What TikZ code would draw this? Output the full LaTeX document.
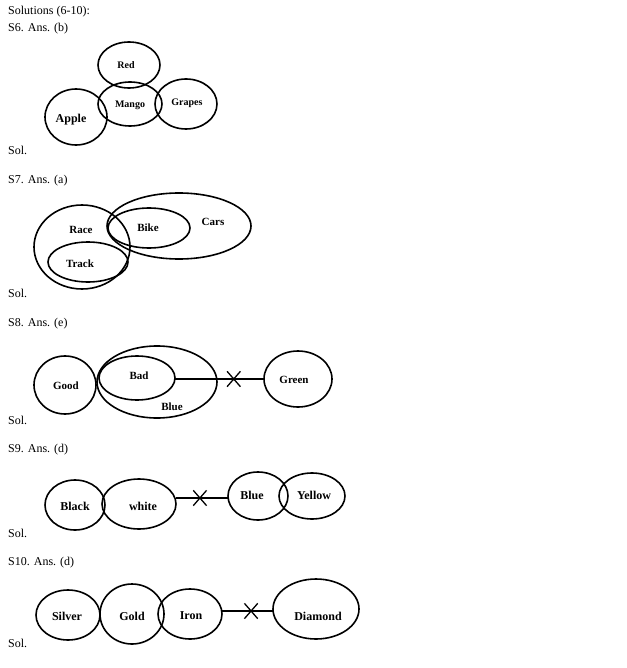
\documentclass[tikz,border=0pt]{standalone}
\usepackage{fontspec}
\setmainfont{Liberation Serif}
\newfontfamily\lblfont{Liberation Serif}
\usetikzlibrary{shapes.misc}
\begin{document}
\begin{tikzpicture}[x=1pt,y=-1pt,
  txt/.style={anchor=west,inner sep=0,font=\fontsize{12}{14}\selectfont},
  lbl/.style={inner sep=0,font=\lblfont\bfseries\fontsize{11}{13}\selectfont},
  ring/.style={draw,line width=1.6pt},
  link/.style={line width=1.6pt},
  xmark/.style={cross out,draw,line width=1.3pt,minimum width=12pt,minimum height=14pt,inner sep=0}]
\useasboundingbox (0,0) rectangle (626,668);
\node[txt] (t0) at (8,12) {Solutions (6-10):};
\node[txt] (t6) at (8,29) {S6. Ans. (b)};
\node[txt] (s6) at (8,150) {Sol.};
\node[txt] (t7) at (8,181) {S7. Ans. (a)};
\node[txt] (s7) at (8,293) {Sol.};
\node[txt] (t8) at (8,324) {S8. Ans. (e)};
\node[txt] (s8) at (8,420) {Sol.};
\node[txt] (t9) at (8,450) {S9. Ans. (d)};
\node[txt] (s9) at (8,533) {Sol.};
\node[txt] (t10) at (8,563) {S10. Ans. (d)};
\node[txt] (s10) at (8,643) {Sol.};
% S6
\draw[ring] (129,65) ellipse (31 and 23);
\draw[ring] (76,117) ellipse (31 and 28);
\draw[ring] (130,104) ellipse (32 and 22);
\draw[ring] (186,104) ellipse (31 and 25);
\node[lbl,font=\lblfont\bfseries\fontsize{10}{12}\selectfont] (red) at (126,65) {Red};
\node[lbl,font=\lblfont\bfseries\fontsize{12}{14}\selectfont] (apple) at (71,120) {Apple};
\node[lbl,font=\lblfont\bfseries\fontsize{10}{12}\selectfont] (mango) at (130,105) {Mango};
\node[lbl,font=\lblfont\bfseries\fontsize{10}{12}\selectfont] (grapes) at (187,103) {Grapes};
% S7
\draw[ring] (82,247) ellipse (48 and 42);
\draw[ring] (179,226) ellipse (72 and 33);
\draw[ring] (149,228) ellipse (41 and 20);
\draw[ring] (88,262) ellipse (40 and 20);
\node[lbl] (race) at (81,230) {Race};
\node[lbl] (bike) at (148,228) {Bike};
\node[lbl] (cars) at (213,222) {Cars};
\node[lbl] (track) at (80,264) {Track};
% S8
\draw[ring] (65,385) ellipse (31 and 29);
\draw[ring] (157,382) ellipse (60 and 36);
\draw[ring] (137,378) ellipse (38 and 22);
\draw[ring] (298,379) ellipse (34 and 28);
\node[lbl] (good) at (66,386) {Good};
\node[lbl] (bad) at (139,376) {Bad};
\node[lbl] (blue8) at (172,407) {Blue};
\node[lbl] (green) at (294,380) {Green};
\coordinate (b8r) at (175,379);
\coordinate (g8l) at (264,379);
\draw[link] (b8r) -- node[xmark,pos=0.66] (x8) {} (g8l);
% S9
\draw[ring] (75,505) ellipse (30 and 25);
\draw[ring] (139,504) ellipse (37 and 25);
\draw[ring] (258,496) ellipse (30 and 24);
\draw[ring] (312,496) ellipse (33 and 23);
\node[lbl,font=\lblfont\bfseries\fontsize{12}{14}\selectfont] (black) at (75,506) {Black};
\node[lbl,font=\lblfont\bfseries\fontsize{12}{14}\selectfont] (white) at (143,506) {white};
\node[lbl,font=\lblfont\bfseries\fontsize{12}{14}\selectfont] (blue9) at (252,495) {Blue};
\node[lbl,font=\lblfont\bfseries\fontsize{12}{14}\selectfont] (yellow) at (314,495) {Yellow};
\coordinate (w9r) at (176,498);
\coordinate (b9l) at (228,498);
\draw[link] (w9r) -- node[xmark,pos=0.46] (x9) {} (b9l);
% S10
\draw[ring] (68,615) ellipse (32 and 25);
\draw[ring] (132,614) ellipse (32 and 30);
\draw[ring] (190,614) ellipse (32 and 25);
\draw[ring] (316,609) ellipse (43 and 30);
\node[lbl,font=\lblfont\bfseries\fontsize{12}{14}\selectfont] (silver) at (67,616) {Silver};
\node[lbl,font=\lblfont\bfseries\fontsize{12}{14}\selectfont] (gold) at (132,616) {Gold};
\node[lbl,font=\lblfont\bfseries\fontsize{12}{14}\selectfont] (iron) at (191,616) {Iron};
\node[lbl,font=\lblfont\bfseries\fontsize{12}{14}\selectfont] (diamond) at (318,616) {Diamond};
\coordinate (i10r) at (222,611);
\coordinate (d10l) at (273,611);
\draw[link] (i10r) -- node[xmark,pos=0.57] (x10) {} (d10l);
\end{tikzpicture}
\end{document}
